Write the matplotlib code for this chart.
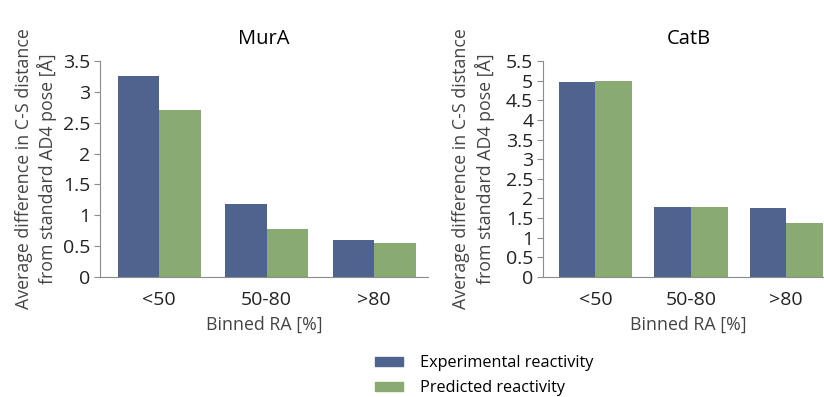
import matplotlib.pyplot as plt
import numpy as np
from matplotlib.patches import Patch

plt.rcParams['font.family'] = ['Open Sans', 'DejaVu Sans']

categories = ['<50', '50-80', '>80']
series_names = ['Experimental reactivity', 'Predicted reactivity']
mura_exp = [3.25, 1.18, 0.60]
mura_pred = [2.70, 0.78, 0.55]
catb_exp = [4.97, 1.79, 1.75]
catb_pred = [5.00, 1.77, 1.37]
mura_ticks = [0, 0.5, 1, 1.5, 2, 2.5, 3, 3.5]
catb_ticks = [0, 0.5, 1, 1.5, 2, 2.5, 3, 3.5, 4, 4.5, 5, 5.5]

blue = '#4e638d'
green = '#89aa70'
grey = '#8c8c8c'

fig = plt.figure(figsize=(8.24, 3.97), dpi=100)
W, H = 824, 397


def px_axes(x0, y0, x1, y1):
    return fig.add_axes([x0 / W, 1 - y1 / H, (x1 - x0) / W, (y1 - y0) / H])


def draw(ax, exp, pred, ticks, title):
    x = np.arange(len(categories))
    w = 0.385
    ax.bar(x - w / 2, exp, w, color=blue)
    ax.bar(x + w / 2, pred, w, color=green)
    ax.set_xlim(-0.55, 2.5)
    ax.set_ylim(0, ticks[-1])
    ax.set_yticks(ticks)
    ax.set_yticklabels([('%g' % t) for t in ticks], fontsize=14, color='#222222')
    ax.set_xticks(x)
    ax.set_xticklabels(categories, fontsize=14, color='#222222')
    ax.tick_params(axis='x', length=0, pad=10)
    ax.tick_params(axis='y', length=4, color=grey, pad=3)
    for s in ['top', 'right']:
        ax.spines[s].set_visible(False)
    for s in ['left', 'bottom']:
        ax.spines[s].set_color(grey)
    ax.set_title(title, fontsize=14.5, pad=12)
    ax.set_xlabel('Binned RA [%]', fontsize=12.8, color='#444444', labelpad=5)
    ax.set_ylabel('Average difference in C-S distance\nfrom standard AD4 pose [Å]',
                  fontsize=12.8, color='#444444', linespacing=1.3, labelpad=4)


ax1 = px_axes(100, 61, 428, 277)
draw(ax1, mura_exp, mura_pred, mura_ticks, 'MurA')
ax2 = px_axes(543, 61, 834, 277)
draw(ax2, catb_exp, catb_pred, catb_ticks, 'CatB')
ax2.yaxis.labelpad = 8

handles = [Patch(color=blue), Patch(color=green)]
fig.legend(handles, series_names, loc='upper left', bbox_to_anchor=(375 / W, 1 - 355 / H),
           frameon=False, fontsize=11.7, handlelength=1.72, handleheight=0.5,
           labelspacing=0.55, handletextpad=1.05, borderpad=0, borderaxespad=0)

fig.savefig('out.png', dpi=100)
